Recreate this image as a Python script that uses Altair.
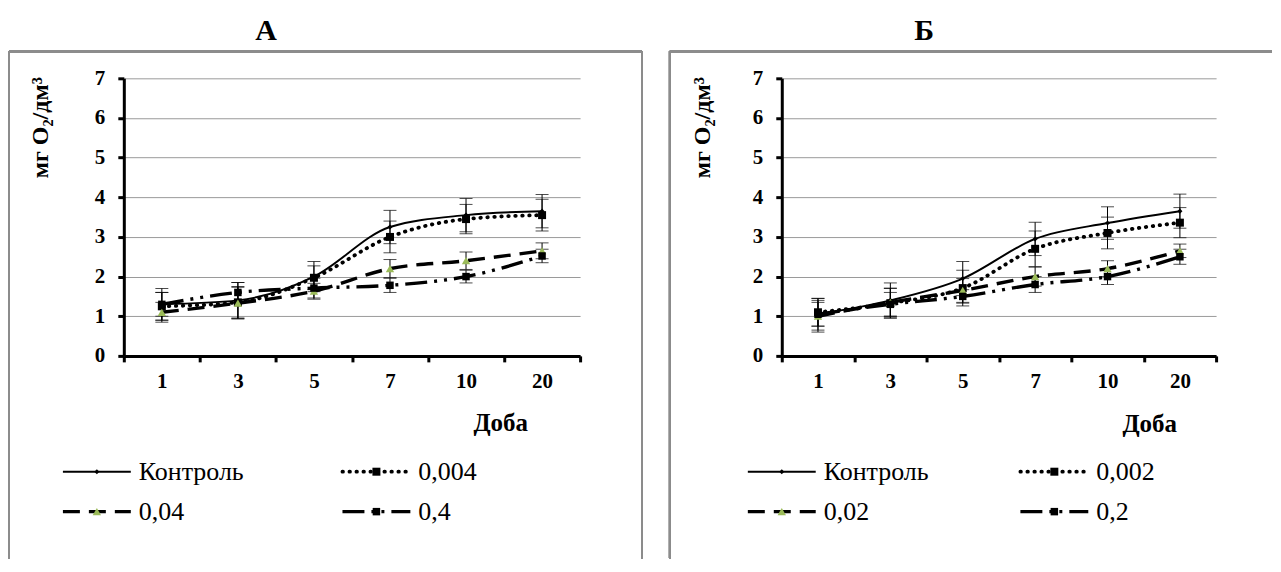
import altair as alt
import pandas as pd

# ---------------- data ----------------
days = ["1", "3", "5", "7", "10", "20"]

series_a = ["Контроль", "0,004", "0,04", "0,4"]
series_b = ["Контроль", "0,002", "0,02", "0,2"]

a_control = [1.30, 1.40, 2.00, 3.25, 3.55, 3.65]
a_err_control = [0.40, 0.45, 0.38, 0.42, 0.42, 0.42]
a_s1 = [1.25, 1.35, 1.97, 3.00, 3.45, 3.55]
a_err_s1 = [0.35, 0.40, 0.30, 0.40, 0.37, 0.40]
a_s2 = [1.10, 1.33, 1.63, 2.20, 2.40, 2.65]
a_err_s2 = [0.25, 0.40, 0.20, 0.23, 0.22, 0.20]
a_s3 = [1.30, 1.60, 1.71, 1.78, 2.00, 2.52]
a_err_s3 = [0.30, 0.25, 0.25, 0.18, 0.16, 0.17]

b_control = [1.05, 1.40, 1.95, 2.95, 3.35, 3.65]
b_err_control = [0.40, 0.44, 0.43, 0.42, 0.41, 0.43]
b_s1 = [1.10, 1.33, 1.71, 2.70, 3.10, 3.36]
b_err_s1 = [0.35, 0.38, 0.45, 0.45, 0.40, 0.38]
b_s2 = [1.00, 1.35, 1.65, 2.00, 2.20, 2.65]
b_err_s2 = [0.40, 0.35, 0.30, 0.24, 0.20, 0.17]
b_s3 = [1.05, 1.30, 1.50, 1.80, 2.00, 2.50]
b_err_s3 = [0.30, 0.30, 0.17, 0.20, 0.20, 0.19]

y_ticks = [0, 1, 2, 3, 4, 5, 6, 7]

# ---------------- styles ----------------
FONT = "Liberation Serif"
GREEN = "#9BBB59"
styles = [
    dict(dash=None, width=2.0, cap="butt", shape="diamond", size=26, color="black"),
    dict(dash=[0.5, 6.5], width=3.8, cap="round", shape="square", size=64, color="black"),
    dict(dash=[17, 9], width=3.4, cap="butt", shape="triangle-up", size=70, color=GREEN),
    dict(dash=[22, 7, 3, 7, 3, 7], width=3.4, cap="butt", shape="square", size=56, color="black"),
]


def panel(title, geo, series, values, errs):
    rows = []
    for s, v, e in zip(series, values, errs):
        for d, y, err in zip(days, v, e):
            rows.append(dict(day=d, series=s, value=y, lo=y - err, hi=y + err))
    df = pd.DataFrame(rows)

    xscale = alt.Scale(domain=days, paddingInner=0, paddingOuter=0)
    xaxis = alt.Axis(
        title="Доба", titleFont=FONT, titleFontSize=25, titleFontWeight="bold",
        titleColor="black", titleX=geo["titleX"], titleY=geo["titleY"],
        titleAlign="center", titleBaseline="middle",
        labelFont=FONT, labelFontSize=21, labelFontWeight="bold", labelColor="black",
        labelAngle=0, labelPadding=9,
        domainColor="black", domainWidth=3, tickColor="black", tickWidth=3,
        tickSize=6, tickBand="extent", grid=False,
    )
    yscale = alt.Scale(domain=[0, 7], nice=False)
    yaxis = alt.Axis(
        title="мг O₂/дм³", titleFont=FONT, titleFontSize=24, titleFontWeight="bold",
        titleColor="black", titleAngle=270, titleX=geo["ytitleX"], titleY=49,
        titleAlign="center", titleBaseline="middle",
        values=y_ticks, format="d",
        labelFont=FONT, labelFontSize=21, labelFontWeight="bold", labelColor="black",
        labelPadding=13,
        domainColor="black", domainWidth=3, tickColor="black", tickWidth=3, tickSize=6,
        grid=True, gridColor="#9a9a9a", gridWidth=1,
    )
    X = alt.X("day:N", sort=days, scale=xscale, axis=xaxis)

    def Y(field):
        return alt.Y(f"{field}:Q", scale=yscale, axis=yaxis)

    base = alt.Chart(df)
    main_layers = []
    # error bars
    main_layers.append(base.mark_rule(color="black", strokeWidth=1).encode(x=X, y=Y("lo"), y2="hi:Q"))
    main_layers.append(base.mark_tick(color="black", thickness=1, size=13).encode(x=X, y=Y("lo")))
    main_layers.append(base.mark_tick(color="black", thickness=1, size=13).encode(x=X, y=Y("hi")))
    # smoothed lines
    for s, st in zip(series, styles):
        kw = dict(color="black", strokeWidth=st["width"], strokeCap=st["cap"], interpolate="monotone")
        if st["dash"]:
            kw["strokeDash"] = st["dash"]
        main_layers.append(
            base.transform_filter(alt.datum.series == s).mark_line(**kw).encode(x=X, y=Y("value"))
        )
    # markers
    for s, st in zip(series, styles):
        main_layers.append(
            base.transform_filter(alt.datum.series == s)
            .mark_point(filled=True, shape=st["shape"], size=st["size"], color=st["color"], opacity=1)
            .encode(x=X, y=Y("value"))
        )
    # panel frame (decoration)
    fr = dict(color="#8c8c8c", strokeWidth=2)
    fl, ft, fb, frr = geo["frame_left"], geo["frame_top"], geo["frame_bottom"], geo["frame_right"]
    main_layers.append(base.mark_rule(**fr).encode(x=alt.value(fl), y=alt.value(ft), y2=alt.value(fb)))
    main_layers.append(base.mark_rule(**fr).encode(x=alt.value(fl), x2=alt.value(frr), y=alt.value(ft)))
    if geo["right_edge"]:
        main_layers.append(base.mark_rule(**fr).encode(x=alt.value(frr), y=alt.value(ft), y2=alt.value(fb)))
    main = alt.layer(*main_layers)

    # custom 2x2 legend (line sample + marker + label)
    leg = pd.DataFrame(dict(series=series, col=[0, 1, 0, 1], row=[0, 0, 1, 1]))
    lbase = alt.Chart(leg)
    LX = alt.X("col:Q", scale=alt.Scale(domain=[0, 1], range=geo["leg_x"]), axis=None)
    LY = alt.Y("row:Q", scale=alt.Scale(domain=[0, 1], range=geo["leg_y"]), axis=None)
    leg_layers = []
    for s, st in zip(series, styles):
        kw = dict(color="black", strokeWidth=st["width"], strokeCap=st["cap"], x2Offset=68)
        if st["dash"]:
            kw["strokeDash"] = st["dash"]
        f = lbase.transform_filter(alt.datum.series == s)
        leg_layers.append(f.mark_rule(**kw).encode(x=LX, x2="col:Q", y=LY))
        leg_layers.append(
            f.mark_point(filled=True, shape=st["shape"], size=st["size"], color=st["color"],
                         opacity=1, xOffset=34).encode(x=LX, y=LY)
        )
    leg_layers.append(
        lbase.mark_text(align="left", baseline="middle", xOffset=76, font=FONT,
                        fontSize=26, color="black").encode(x=LX, y=LY, text="series:N")
    )
    legend = alt.layer(*leg_layers)

    return (
        alt.layer(main, legend)
        .resolve_scale(x="independent", y="independent")
        .properties(
            width=geo["w"], height=278,
            title=alt.TitleParams(
                title, font=FONT, fontSize=30, fontWeight="bold", color="black",
                anchor="middle", frame="group", dx=geo["title_dx"], offset=-20,
                baseline="alphabetic",
            ),
        )
    )


geo_a = dict(w=457, titleX=377, titleY=67, ytitleX=-83, title_dx=-86,
             frame_left=-115, frame_top=-27, frame_bottom=481, frame_right=519, right_edge=True,
             leg_x=[-61, 219], leg_y=[394, 434])
geo_b = dict(w=435, titleX=368, titleY=68, ytitleX=-79, title_dx=-75,
             frame_left=-112, frame_top=-27, frame_bottom=481, frame_right=491, right_edge=False,
             leg_x=[-34, 239], leg_y=[394, 434])

pa = panel("А", geo_a, series_a,
           [a_control, a_s1, a_s2, a_s3], [a_err_control, a_err_s1, a_err_s2, a_err_s3])
pb = panel("Б", geo_b, series_b,
           [b_control, b_s1, b_s2, b_s3], [b_err_control, b_err_s1, b_err_s2, b_err_s3])

chart = (
    alt.hconcat(pa, pb, spacing=26)
    .properties(padding={"left": 0, "top": 8, "right": 0, "bottom": 0}, background="white")
    .configure(font=FONT)
    .configure_view(stroke=None)
)

chart.save("out.html", embed_options={"renderer": "svg", "actions": False})
